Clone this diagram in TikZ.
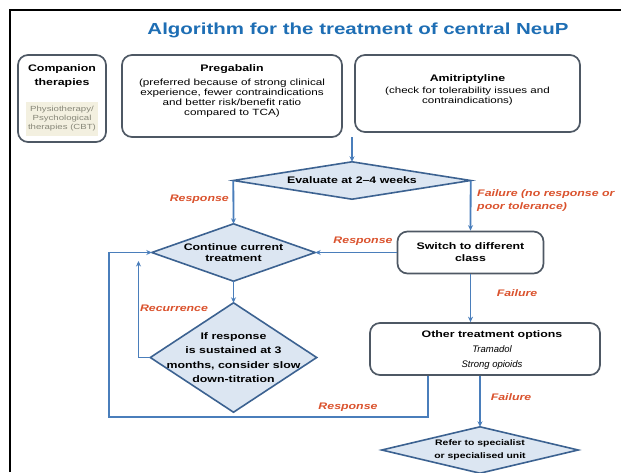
\documentclass[tikz,border=0pt]{standalone}
\usepackage{fontspec}
\setmainfont{Liberation Sans}
\newfontfamily\tfont{Liberation Sans}[FakeStretch=1.28]
\newfontfamily\bfont{Liberation Sans}[FakeStretch=1.3]
\usetikzlibrary{arrows.meta,calc}
\definecolor{lineblue}{RGB}{74,126,187}
\definecolor{diafill}{RGB}{220,230,242}
\definecolor{diaborder}{RGB}{60,98,145}
\definecolor{boxgray}{RGB}{78,88,100}
\definecolor{labred}{RGB}{218,82,45}
\definecolor{titleblue}{RGB}{30,110,180}
\definecolor{beige}{RGB}{243,240,224}
\definecolor{softgray}{RGB}{135,135,120}
\pgfdeclarelayer{bg}
\pgfsetlayers{bg,main}
\tikzset{
  titlestyle/.style={text=titleblue, font=\tfont\bfseries\fontsize{16}{18}\selectfont, inner sep=0pt},
  boxstyle/.style={draw=boxgray, line width=1.7pt, rounded corners=10pt, fill=white, inner sep=0pt},
  txt/.style={align=center, inner sep=0pt, font=\bfont\fontsize{9}{10}\selectfont},
  boldtxt/.style={align=center, inner sep=0pt, font=\bfont\bfseries\fontsize{9.5}{11}\selectfont},
  dianode/.style={align=center, inner sep=0pt, font=\bfont\bfseries\fontsize{9.5}{11}\selectfont},
  diashape/.style={draw=diaborder, fill=diafill, line width=1.6pt, line join=miter},
  conn/.style={draw=lineblue, line width=1.8pt, -{Stealth[length=5.5pt,width=5pt]}},
  lab/.style={text=labred, inner sep=0pt, font=\bfont\bfseries\itshape\fontsize{9.5}{13}\selectfont},
  framel/.style={draw=black, line width=1.3pt}
}
\begin{document}
\begin{tikzpicture}[x=1pt,y=-1pt]
\useasboundingbox (0,0) rectangle (621,472);
\draw[framel] (10,472) -- (10,10) -- (621,10);

% title
\node[titlestyle] (title) at (358,30) {Algorithm for the treatment of central NeuP};

% companion therapies
\node[boxstyle, minimum width=88pt, minimum height=87pt] (comp) at (62,98.5) {};
\node[boldtxt, font=\bfont\bfseries\fontsize{9.5}{14}\selectfont] (comph) at (62,76) {Companion\\therapies};
\node[fill=beige, minimum width=72pt, minimum height=34pt, inner sep=0pt, align=center,
      text=softgray, font=\bfont\fontsize{7.4}{9}\selectfont] (compin) at (62,118.5)
      {Physiotherapy/\\Psychological\\therapies (CBT)};

% Pregabalin
\node[boxstyle, minimum width=220pt, minimum height=82pt] (preg) at (232,96) {};
\node[txt] (pregt) at (232,91) {{\bfseries\fontsize{9.5}{10}\selectfont Pregabalin}\\[3.5pt]
  (preferred because of strong clinical\\experience, fewer contraindications\\and better risk/benefit ratio\\compared to TCA)};

% Amitriptyline
\node[boxstyle, minimum width=225pt, minimum height=77pt] (ami) at (467.5,93.5) {};
\node[txt, font=\bfont\fontsize{8.9}{10}\selectfont] (amit) at (467.5,89.5) {{\bfseries\fontsize{9.5}{10}\selectfont Amitriptyline}\\[2pt]
  (check for tolerability issues and\\contraindications)};

\coordinate (start) at (352,137);

% diamonds and boxes
\node[dianode, minimum width=237pt, minimum height=37pt] (eval) at (352,180.5) {Evaluate at 2–4 weeks};
\node[dianode, font=\bfont\bfseries\fontsize{9.5}{10.5}\selectfont, minimum width=163pt, minimum height=57pt] (cont) at (233.5,252.5) {Continue current\\treatment};
\node[boxstyle, minimum width=146pt, minimum height=42pt] (sw) at (470.5,252.5) {};
\node[boldtxt, font=\bfont\bfseries\fontsize{9.5}{12.5}\selectfont] (swt) at (470.5,252) {Switch to different\\class};
\node[dianode, font=\bfont\bfseries\fontsize{9.5}{14.3}\selectfont, minimum width=166pt, minimum height=109pt] (ifr) at (233.5,357.5)
  {If response\\is sustained at 3\\months, consider slow\\down-titration};
\node[boxstyle, minimum width=230pt, minimum height=52pt] (oth) at (485,349) {};
\node[boldtxt, font=\bfont\bfseries\fontsize{9.5}{15}\selectfont] (otht) at (492,350)
  {Other treatment options\\{\normalfont\itshape Tramadol}\\{\normalfont\itshape Strong opioids}};
\node[dianode, font=\bfont\bfseries\fontsize{8}{13.5}\selectfont, minimum width=196pt, minimum height=46pt] (ref) at (480,450)
  {Refer to specialist\\or specialised unit};

\begin{pgfonlayer}{bg}
  \draw[diashape] (eval.north) -- (eval.east) -- (eval.south) -- (eval.west) -- cycle;
  \draw[diashape] (cont.north) -- (cont.east) -- (cont.south) -- (cont.west) -- cycle;
  \draw[diashape] (ifr.north) -- (ifr.east) -- (ifr.south) -- (ifr.west) -- cycle;
  \draw[diashape] (ref.north) -- (ref.east) -- (ref.south) -- (ref.west) -- cycle;
\end{pgfonlayer}

% connectors
\draw[conn] (start) -- (eval.north);
\draw[conn] (eval.west) -- (cont.north);
\draw[conn] (eval.east) -- (sw.north);
\draw[conn] (sw.west) -- (cont.east);
\draw[conn] (cont.south) -- (ifr.north);
\coordinate (rec) at (138.5,261);
\draw[conn] (ifr.west) -| (rec);
\coordinate (loopa) at (428,417);
\coordinate (loopb) at (109,417);
\draw[conn] (oth.south -| loopa) -- (loopa) -- (loopb) |- (cont.west);
\draw[conn] (sw.south) -- (sw.south |- oth.north);
\draw[conn] (ref.north |- oth.south) -- (ref.north);

% labels
\node[lab, anchor=east] (l1) at (229,199) {Response};
\node[lab, anchor=west, align=left] (l2) at (477,200.5) {Failure (no response or\\poor tolerance)};
\node[lab] (l3) at (363,241) {Response};
\node[lab] (l4) at (517,293) {Failure};
\node[lab] (l5) at (174,308) {Recurrence};
\node[lab] (l6) at (348,407) {Response};
\node[lab] (l7) at (511,397) {Failure};
\end{tikzpicture}
\end{document}
